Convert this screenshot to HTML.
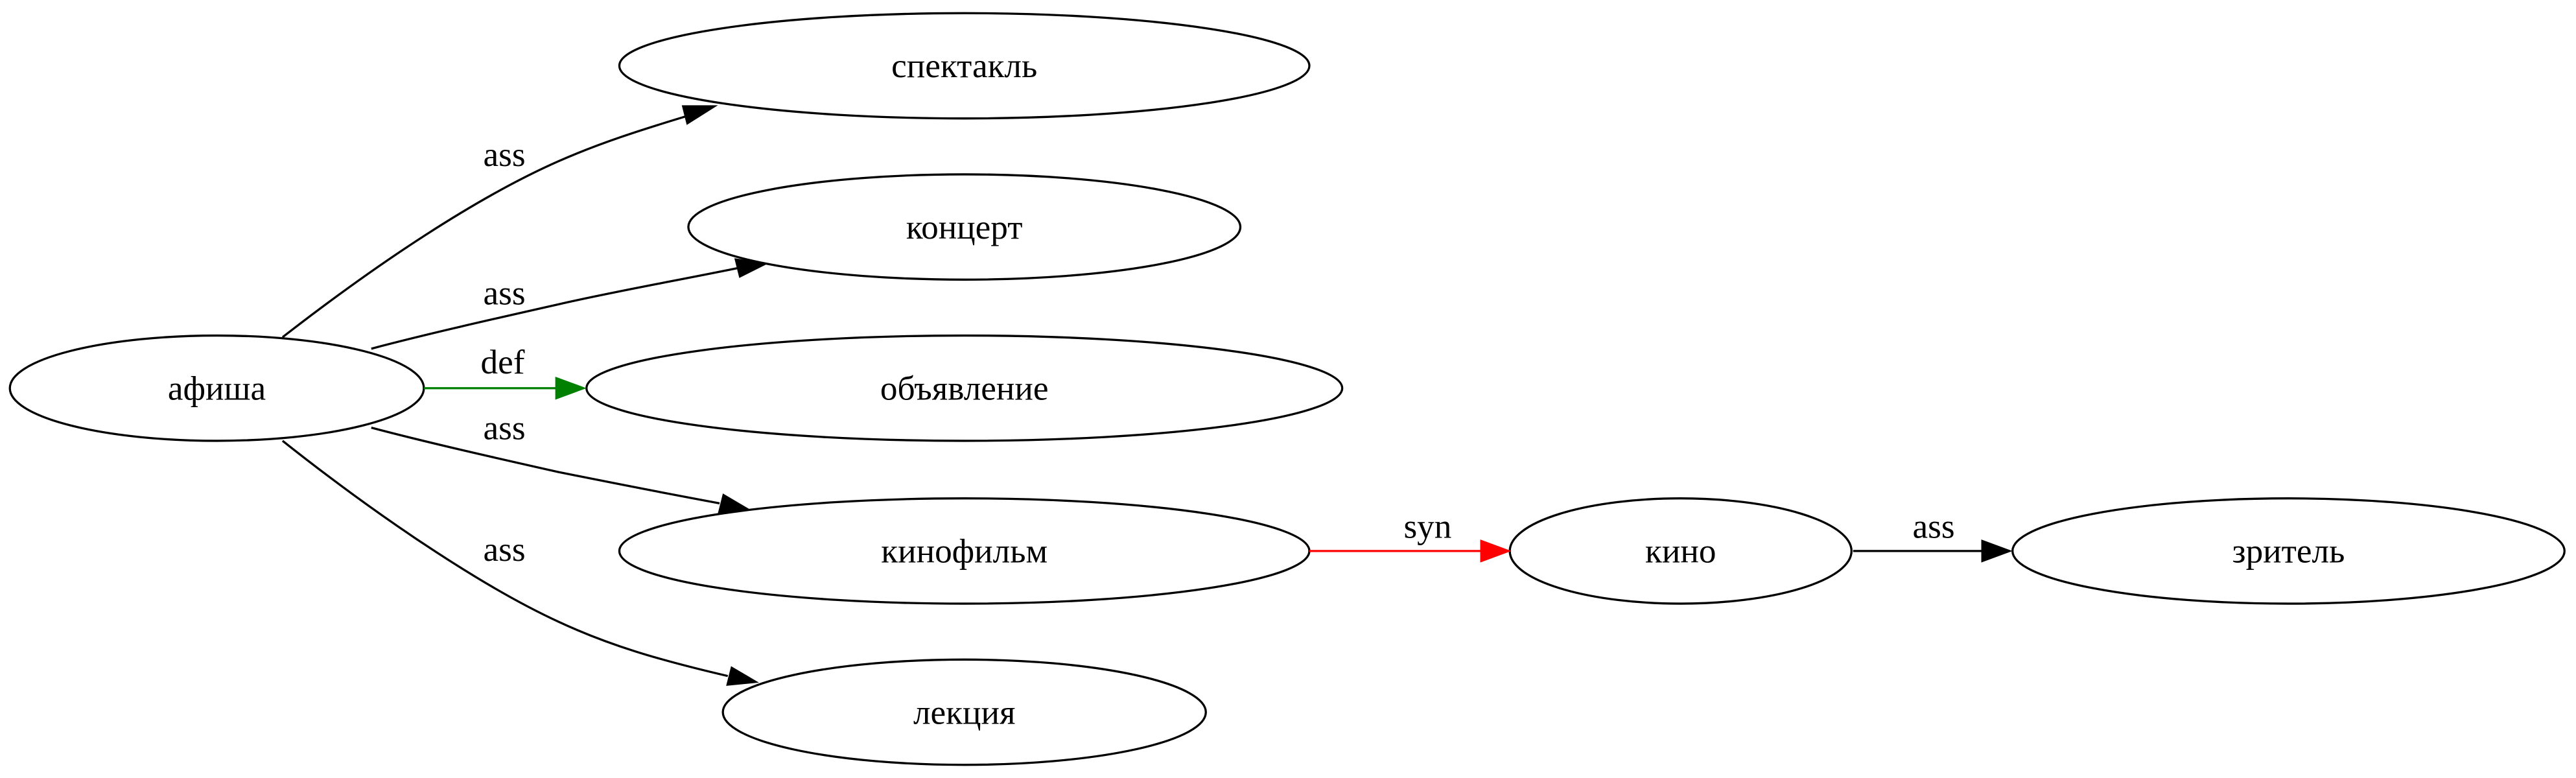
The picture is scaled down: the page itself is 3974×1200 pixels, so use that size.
<!DOCTYPE html>
<html><head><meta charset="utf-8"><style>html,body{margin:0;padding:0;background:#fff;}svg{display:block}</style></head>
<body>
<svg width="3974" height="1200" viewBox="0 0 1568 473" preserveAspectRatio="none" xmlns="http://www.w3.org/2000/svg">
<g fill="none" stroke="#000" stroke-width="1.3">
<ellipse cx="132" cy="236" rx="126" ry="32"/>
<ellipse cx="587" cy="40" rx="210" ry="32"/>
<ellipse cx="587" cy="138" rx="168" ry="32"/>
<ellipse cx="587" cy="236" rx="230" ry="32"/>
<ellipse cx="587" cy="335" rx="210" ry="32"/>
<ellipse cx="587" cy="433" rx="147" ry="32"/>
<ellipse cx="1023" cy="335" rx="104" ry="32"/>
<ellipse cx="1393" cy="335" rx="168" ry="32"/>
<path d="M172,205 C230,160 290,120 340,98 C365,87 390,79 420,70"/>
<path d="M226,212 C260,203 300,194 340,185 C375,177 415,170 449,163"/>
<path d="M226,260 C260,269 300,278 340,287 C370,293 400,299 438,306"/>
<path d="M172,268 C225,310 290,355 340,378 C370,392 400,401 443,411"/>
<path d="M1128,335 L1207,335"/>
<path d="M258,236 L339,236" stroke="#008000"/>
<path d="M797,335 L902,335" stroke="#f00"/>
</g>
<g fill="#000">
<polygon points="437,64 418,76 415,64"/>
<polygon points="468,160 450,169 447,157"/>
<polygon points="457,310 437,312 440,300"/>
<polygon points="462,415 442,417 445,405"/>
<polygon points="1225,335 1206,342 1206,328"/>
<polygon points="357,236 338,243 338,229" fill="#008000"/>
<polygon points="920,335 901,342 901,328" fill="#f00"/>
</g>
<g font-family="Liberation Serif, serif" font-size="21" text-anchor="middle" fill="#000">
<text x="132" y="243">афиша</text>
<text x="587" y="47">спектакль</text>
<text x="587" y="145">концерт</text>
<text x="587" y="243">объявление</text>
<text x="587" y="342">кинофильм</text>
<text x="587" y="440">лекция</text>
<text x="1023" y="342">кино</text>
<text x="1393" y="342">зритель</text>
<text x="307" y="101">ass</text>
<text x="307" y="185">ass</text>
<text x="306" y="227">def</text>
<text x="307" y="267">ass</text>
<text x="307" y="341">ass</text>
<text x="869" y="327">syn</text>
<text x="1177" y="327">ass</text>
</g>
</svg>
</body></html>
